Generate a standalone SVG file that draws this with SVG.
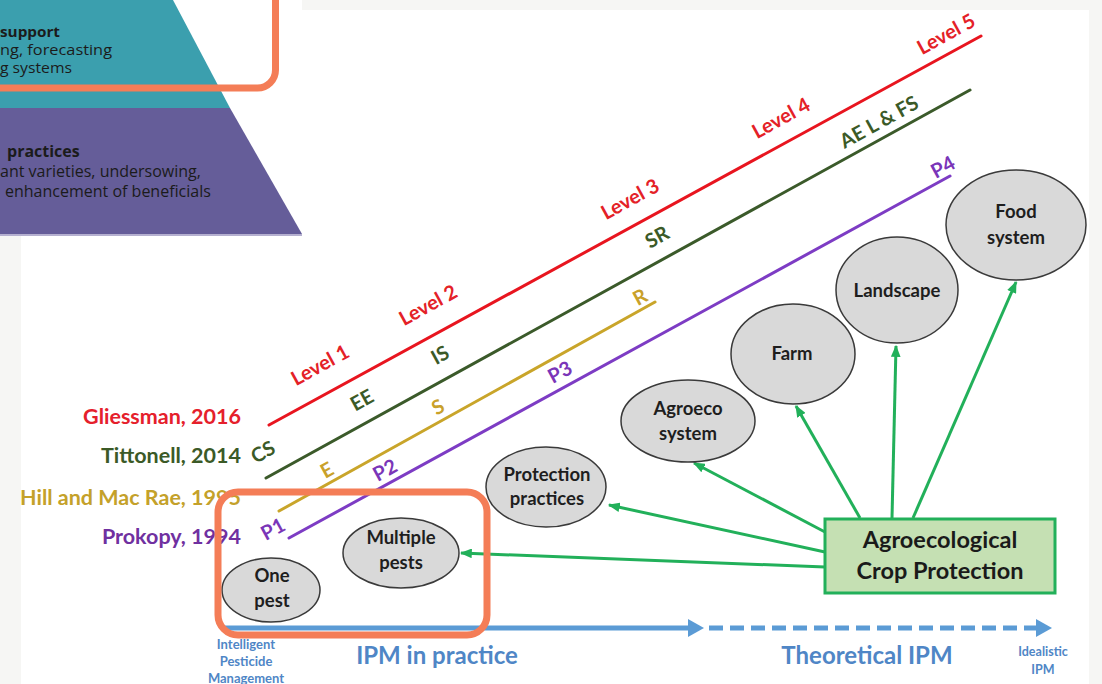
<svg xmlns="http://www.w3.org/2000/svg" width="1102" height="684" viewBox="0 0 1102 684">
<defs>
<style>
.lbl{font-family:Lato,"Liberation Sans",sans-serif;font-weight:bold;}
.pyr{font-family:"Open Sans","Noto Sans",sans-serif;font-size:16px;fill:#1b1b1b;}
.pyr.t{font-size:14px;}
.node ellipse{fill:#d9d9d9;stroke:#3a3a3a;stroke-width:1.5;}
.node text{font-family:Lato,"Liberation Sans",sans-serif;font-weight:bold;font-size:18.5px;fill:#1e1e1e;text-anchor:middle;}
.ga{stroke:#22b05a;stroke-width:3;fill:none;marker-end:url(#gh);}
.slope{font-family:Lato,"Liberation Sans",sans-serif;font-weight:bold;font-size:20px;text-anchor:middle;}
.blue{fill:#4f86c6;font-family:Lato,"Liberation Sans",sans-serif;font-weight:bold;text-anchor:middle;}
</style>
<marker id="gh" viewBox="0 0 10 8" refX="9" refY="4" markerWidth="4" markerHeight="3.2" orient="auto" markerUnits="strokeWidth">
<path d="M0,0 L10,4 L0,8 z" fill="#22b05a"/>
</marker>
<marker id="bh" viewBox="0 0 16 18" refX="2" refY="9" markerWidth="16" markerHeight="18" orient="auto" markerUnits="userSpaceOnUse">
<path d="M0,0 L16,9 L0,18 z" fill="#5b9bd5"/>
</marker>
</defs>

<!-- backgrounds -->
<rect x="0" y="0" width="1102" height="684" fill="#f6f6f4"/>
<rect x="21" y="10" width="1068" height="674" fill="#ffffff"/>
<rect x="0" y="0" width="302" height="236" fill="#ffffff"/>

<!-- pyramid fragment -->
<g id="pyramid">
<polygon points="0,0 173,0 230,108 0,108" fill="#3b9fae"/>
<polygon points="0,108 230,108 302,234 0,234" fill="#655d99"/>
<line x1="0" y1="235" x2="302" y2="235" stroke="#9c96c0" stroke-width="1.5"/>
<text class="pyr t" x="0" y="37" font-weight="bold" textLength="60" lengthAdjust="spacingAndGlyphs">support</text>
<text class="pyr t" x="0" y="55" textLength="112" lengthAdjust="spacingAndGlyphs">ng, forecasting</text>
<text class="pyr t" x="0" y="73" textLength="72" lengthAdjust="spacingAndGlyphs">g systems</text>
<text class="pyr" x="7" y="157" font-weight="bold">practices</text>
<text class="pyr" x="0" y="177">ant varieties, undersowing,</text>
<text class="pyr" x="5" y="197">enhancement of beneficials</text>
<rect x="-20" y="-30" width="295.5" height="118" rx="18" fill="none" stroke="#f47d57" stroke-width="7"/>
</g>

<!-- author labels -->
<g id="authors" class="lbl" font-size="21.5" text-anchor="end">
<text x="241" y="424" fill="#e5202b">Gliessman, 2016</text>
<text x="241" y="463" fill="#3b5a27">Tittonell, 2014</text>
<text x="241" y="505" fill="#c4a12a">Hill and Mac Rae, 1995</text>
<text x="241" y="544" fill="#7030a0">Prokopy, 1994</text>
</g>

<!-- sloped scale lines -->
<g id="scales" stroke-width="3" stroke-linecap="round">
<line x1="269" y1="425" x2="981" y2="36" stroke="#e8151f"/>
<line x1="266" y1="478" x2="970" y2="90" stroke="#3b5a2a"/>
<line x1="279" y1="511" x2="655" y2="302" stroke="#c9a52a"/>
<line x1="289" y1="538" x2="950" y2="176" stroke="#7d3cc4"/>
</g>

<g id="scale-labels" class="slope">
<g fill="#e42127">
<text transform="translate(320,365) rotate(-28.8)" y="7">Level 1</text>
<text transform="translate(428,305) rotate(-28.8)" y="7">Level 2</text>
<text transform="translate(630,199) rotate(-28.8)" y="7">Level 3</text>
<text transform="translate(781,118) rotate(-28.8)" y="7">Level 4</text>
<text transform="translate(946,34) rotate(-28.8)" y="7">Level 5</text>
</g>
<g fill="#3b5a27">
<text transform="translate(263,452) rotate(-28.8)" y="7">CS</text>
<text transform="translate(362,400) rotate(-28.8)" y="7">EE</text>
<text transform="translate(440,355) rotate(-28.8)" y="7">IS</text>
<text transform="translate(657,237) rotate(-28.8)" y="7">SR</text>
<text transform="translate(879,122) rotate(-28.8)" y="7">AE L &amp; FS</text>
</g>
<g fill="#c9a12a">
<text transform="translate(327,470) rotate(-28.8)" y="7">E</text>
<text transform="translate(438,407) rotate(-28.8)" y="7">S</text>
<text transform="translate(640,297) rotate(-28.8)" y="7">R</text>
</g>
<g fill="#7a35b8">
<text transform="translate(273,529) rotate(-28.8)" y="7">P1</text>
<text transform="translate(385,470) rotate(-28.8)" y="7">P2</text>
<text transform="translate(560,372) rotate(-28.8)" y="7">P3</text>
<text transform="translate(943,167) rotate(-28.8)" y="7">P4</text>
</g>
</g>

<!-- connectors -->
<g id="connectors">
<line class="ga" x1="825" y1="567" x2="461" y2="553"/>
<line class="ga" x1="825" y1="552" x2="609" y2="505"/>
<line class="ga" x1="825" y1="532" x2="694" y2="463"/>
<line class="ga" x1="860" y1="518" x2="796" y2="406"/>
<line class="ga" x1="892" y1="518" x2="896" y2="346"/>
<line class="ga" x1="913" y1="518" x2="1016" y2="282"/>
</g>

<!-- nodes -->
<g id="one-pest" class="node">
<ellipse cx="271" cy="590" rx="49" ry="32"/>
<text x="272" y="582">One</text>
<text x="272" y="607">pest</text>
</g>
<g id="multiple-pests" class="node">
<ellipse cx="401" cy="553" rx="58" ry="35"/>
<text x="401" y="544">Multiple</text>
<text x="401" y="569">pests</text>
</g>
<g id="protection-practices" class="node">
<ellipse cx="546" cy="487" rx="60" ry="40"/>
<text x="547" y="481">Protection</text>
<text x="547" y="505">practices</text>
</g>
<g id="agroecosystem" class="node">
<ellipse cx="688" cy="421" rx="67" ry="41"/>
<text x="688" y="415">Agroeco</text>
<text x="688" y="440">system</text>
</g>
<g id="farm" class="node">
<ellipse cx="793" cy="354" rx="62" ry="50"/>
<text x="792" y="360">Farm</text>
</g>
<g id="landscape" class="node">
<ellipse cx="897" cy="290" rx="61" ry="53"/>
<text x="897" y="297">Landscape</text>
</g>
<g id="food-system" class="node">
<ellipse cx="1016" cy="225" rx="70" ry="55"/>
<text x="1016" y="218">Food</text>
<text x="1016" y="244">system</text>
</g>
<g id="acp">
<rect x="825" y="519" width="230" height="74" fill="#c5e0b3" stroke="#22b05a" stroke-width="3"/>
<text class="lbl" x="940" y="548" font-size="23.5" fill="#1a1a1a" text-anchor="middle">Agroecological</text>
<text class="lbl" x="940" y="579" font-size="23.5" fill="#1a1a1a" text-anchor="middle">Crop Protection</text>
</g>

<!-- IPM axis -->
<g id="ipm-axis">
<line x1="222" y1="628" x2="690" y2="628" stroke="#5b9bd5" stroke-width="5" marker-end="url(#bh)"/>
<line x1="709" y1="628" x2="1038" y2="628" stroke="#5b9bd5" stroke-width="5" stroke-dasharray="14 7" marker-end="url(#bh)"/>
<text class="blue" x="437" y="664" font-size="24">IPM in practice</text>
<text class="blue" x="867" y="664" font-size="24">Theoretical IPM</text>
<text class="blue" x="246" y="649" font-size="13">Intelligent</text>
<text class="blue" x="246" y="666" font-size="13">Pesticide</text>
<text class="blue" x="246" y="683" font-size="13">Management</text>
<text class="blue" x="1043" y="656" font-size="12.5">Idealistic</text>
<text class="blue" x="1043" y="674" font-size="12.5">IPM</text>
</g>

<!-- highlight -->
<rect id="highlight" x="218" y="492" width="269" height="143" rx="20" fill="none" stroke="#f47d57" stroke-width="7"/>
</svg>
